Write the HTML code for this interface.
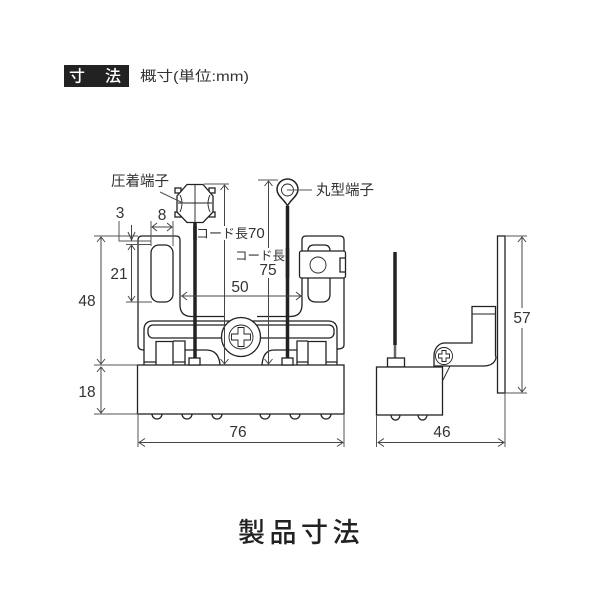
<!DOCTYPE html>
<html><head><meta charset="utf-8"><style>
html,body{margin:0;padding:0;background:#fff;width:600px;height:600px;overflow:hidden}
svg{display:block}
text{font-family:"Liberation Sans","Noto Sans CJK JP",sans-serif;fill:#333}
.d{stroke:#555;stroke-width:1;fill:none}
.a{stroke:#444;stroke-width:1;fill:none}
.k{stroke:#222;stroke-width:1.3;fill:none}
.w{stroke:#222;stroke-width:1.3;fill:#fff}
.t{stroke-width:.9}
.n{font-size:15.500px;text-anchor:middle}
.j{font-size:14.500px}
</style></head><body>
<svg width="600" height="600" viewBox="0 0 600 600" xmlns="http://www.w3.org/2000/svg">
<rect x="64" y="65" width="65" height="22" fill="#222"/>
<text x="77" y="81.500" font-size="16" font-weight="500" text-anchor="middle" style="fill:#fff">寸</text>
<text x="113" y="81.500" font-size="16" font-weight="500" text-anchor="middle" style="fill:#fff">法</text>
<text x="140" y="81" font-size="14" textLength="109" lengthAdjust="spacingAndGlyphs">概寸(単位:mm)</text>

<!-- front view -->
<path class="k" d="M180 305V240q0-4-4-4H142q-4 0-4 4V345q0 5 6 5"/>
<rect class="k" x="151" y="245" width="22" height="57" rx="8"/>
<path class="k" d="M180 305q0 11 11 11.500H224M257 316.500H290q12 0 12-12V240q0-4 4-4h34q4 0 4 4V345q0 4-7 4"/>
<path class="k" d="M144 365V330q0-9 9-9H328q9 0 9 9V365"/>
<rect class="k" x="148" y="325" width="186" height="13" rx="5"/>
<rect class="w" x="137.500" y="365" width="206.500" height="49"/>
<path class="k" d="M156 365V341.500H173V365M173 341H185V365M185 350H206q13 0 14 15M173 362H185M144 362H156"/>
<path class="k" d="M308 365V341.500H326V365M308 341H297V365M297 350H274q-11 0-12 15M297 362H308M326 362H337"/>
<path class="k" d="M152 414a5 5 0 0 0 10 0M182 414a5 5 0 0 0 10 0M212 414a5 5 0 0 0 10 0M260 414a5 5 0 0 0 10 0M290 414a5 5 0 0 0 10 0M321 414a5 5 0 0 0 10 0"/>
<circle class="w" cx="241" cy="337" r="19.500"/>
<circle class="k t" cx="241" cy="337" r="12"/>
<path class="k t" d="M238 327.500h6v6.500h6.500v6h-6.500v6.500h-6v-6.500h-6.500v-6h6.500z"/>
<path d="M195 222V358" stroke="#222" stroke-width="3.500"/>
<path d="M287.500 206V358" stroke="#222" stroke-width="3.500"/>
<rect class="w" x="189" y="358" width="11" height="7"/>
<rect class="w" x="282" y="358" width="11" height="7"/>

<!-- crimp terminal -->
<g>
<rect class="w" x="175" y="188" width="6" height="5"/><rect class="w" x="209" y="188" width="6" height="5"/>
<rect class="w" x="175" y="212" width="6" height="5"/><rect class="w" x="209" y="212" width="6" height="5"/>
<path class="w" d="M187 184.500H203L213 196V212L203 222.500H187L177 212V196Z"/>
<path class="k t" d="M180 195q4 8 0 17M210 195q-4 8 0 17M195 185V222M178 203H212"/>
</g>
<path class="d" d="M160 192L183 203"/>
<text class="j" x="111" y="186">圧着端子</text>

<!-- round terminal -->
<path class="w" style="stroke-width:1.500" d="M287.500 206C285 200 277 196 277 189.500a10.500 10.500 0 0 1 21 0C298 196 290 200 287.500 206Z"/>
<circle class="k t" cx="287.500" cy="190" r="6"/>
<path class="d" d="M287 190H312"/>
<text class="j" x="316" y="195">丸型端子</text>

<!-- clip -->
<path class="k" d="M308 251q0-6 6-6h10q6 0 6 6M308 278v16q0 8 8 8h6q8 0 8-8v-16"/>
<rect class="w" x="299.500" y="251" width="46" height="27" rx="2"/>
<path class="k" d="M346 258h-6v14h6"/>
<circle class="k t" cx="318" cy="265" r="8"/>

<!-- dims -->
<g class="d">
<path d="M94 236H138M94 365H138M94 414H138"/>
<path d="M119 221V241H151M126 244.500H151M126 302H152"/>
<path d="M151 221V246M173 221V246"/>
<path d="M138 414V447M344 414V447"/>
<path d="M204 184H229M258 180H278"/>
</g>
<g class="a">
<path d="M101 237V364M97 242l4-5 4 5M97 359l4 5 4-5"/>
<path d="M101 367V413M97 372l4-5 4 5M97 408l4 5 4-5"/>
<path d="M131.500 225V241M128 232l3.500 8 3.500-8M131.500 245V301M128 250l3.500-5 3.500 5M128 296l3.500 5 3.500-5"/>
<path d="M152 227H172M157 223l-5 4 5 4M167 223l5 4-5 4"/>
<path d="M181 296H301M187 292l-5 4 5 4M296 292l5 4-5 4"/>
<path d="M224.500 185V364M220.500 190l4-5 4 5M220.500 359l4 5 4-5"/>
<path d="M268.500 181V364M264.500 186l4-5 4 5M264.500 359l4 5 4-5"/>
<path d="M139 442.500H343M145 438.500l-6 4 6 4M337 438.500l6 4-6 4"/>
</g>
<rect x="197" y="226" width="70" height="14" fill="#fff"/>
<rect x="235" y="248" width="50" height="30" fill="#fff"/>
<path d="M287.500 248V278" stroke="#222" stroke-width="3.500"/>
<path d="M195 226V240" stroke="#222" stroke-width="3.500"/>
<text x="196" y="238"><tspan font-size="13">コード長</tspan><tspan font-size="15">70</tspan></text>
<text x="235" y="260" font-size="12.500">コード長</text>
<text class="n" x="268" y="275">75</text>
<text class="n" x="240" y="292">50</text>
<text class="n" x="162" y="220">8</text>
<text class="n" x="120" y="218">3</text>
<text class="n" x="119" y="279">21</text>
<text class="n" x="87" y="306">48</text>
<text class="n" x="87" y="397">18</text>
<text class="n" x="238" y="437">76</text>

<!-- side view -->
<rect class="w" x="497.500" y="236" width="7.500" height="157"/>
<path class="w" d="M472 343V306.500H495.500V355L496 358Q494 366 483 366H434V356A10.500 13 0 0 1 444 343Z"/>
<path class="k t" d="M472 314H495"/>
<circle class="w t" cx="444" cy="356" r="8.500"/>
<path class="k t" d="M442 350.500h4v3.500h3.500v4h-3.500v3.500h-4v-3.500h-3.500v-4h3.500z"/>
<path class="k t" d="M450 366L443 380"/>
<path d="M395 252V345" stroke="#222" stroke-width="3.500"/>
<path d="M395 345V358" stroke="#666" stroke-width="2.500"/>
<rect class="w" x="387.500" y="358" width="17" height="9"/>
<rect class="w" x="376.500" y="367" width="66" height="48"/>
<path class="k" d="M391 415a4.500 5 0 0 0 9 0M418 415a4.500 5 0 0 0 9 0"/>
<g class="d">
<path d="M505 236H527M505 393H527M376.500 415V447M505 393V447"/>
</g>
<g class="a">
<path d="M522 237V392M518 242l4-5 4 5M518 387l4 5 4-5"/>
<path d="M378 442.500H504M384 438.500l-6 4 6 4M498 438.500l6 4-6 4"/>
</g>
<text class="n" x="442" y="437">46</text>
<rect x="513" y="308" width="20" height="20" fill="#fff"/>
<text class="n" x="522" y="323">57</text>

<text x="238" y="542" font-size="27" font-weight="500" letter-spacing="4.500" style="fill:#222;font-family:'Noto Sans CJK JP',sans-serif">製品寸法</text>
</svg>
</body></html>
